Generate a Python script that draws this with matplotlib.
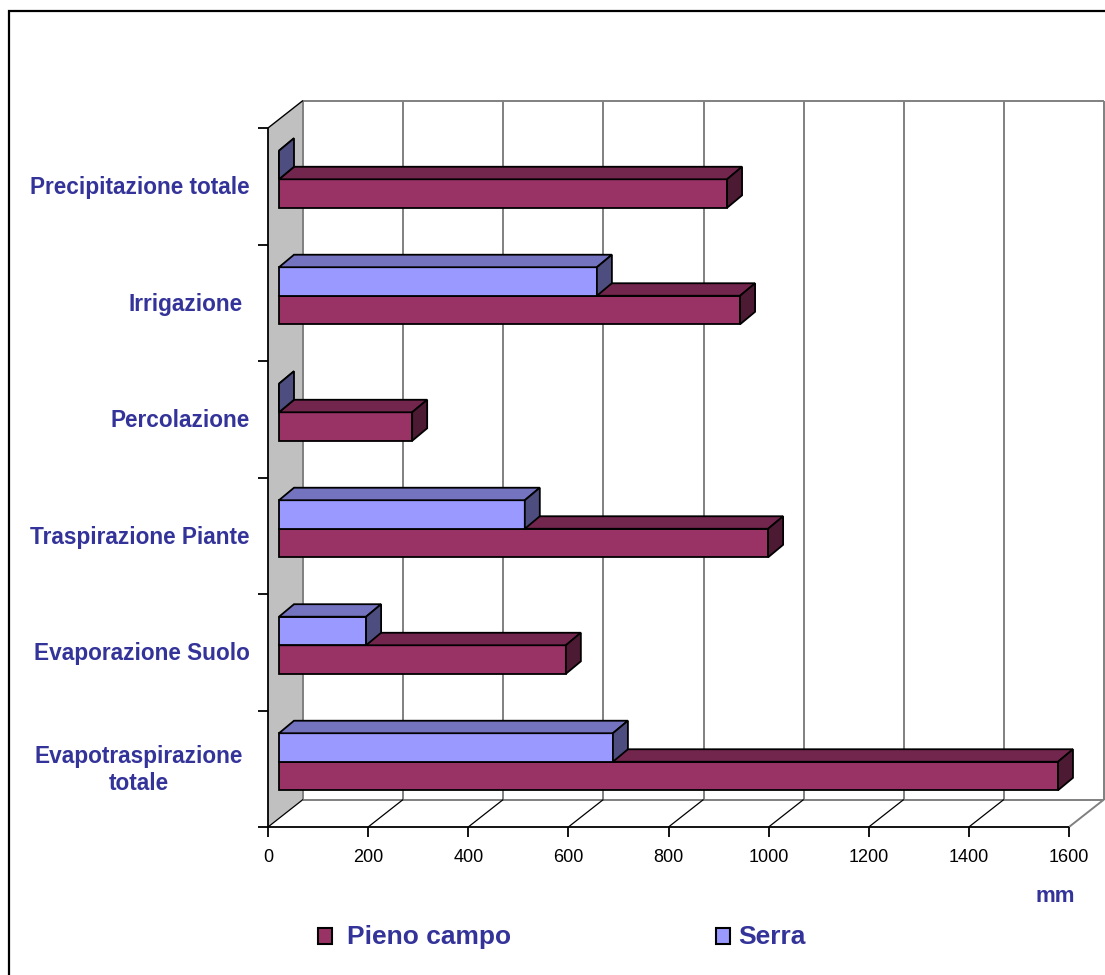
import matplotlib
matplotlib.use('Agg')
import matplotlib.pyplot as plt
from matplotlib.patches import Polygon, Rectangle

# ---------------- data ----------------
categories = ['Evapotraspirazione\ntotale', 'Evaporazione Suolo', 'Traspirazione Piante',
              'Percolazione', 'Irrigazione ', 'Precipitazione totale']
pieno_campo = [1556, 573, 977, 266, 921, 895]
serra = [667, 174, 491, 0, 635, 0]
x_ticks = [0, 200, 400, 600, 800, 1000, 1200, 1400, 1600]
series_names = ['Pieno campo', 'Serra']
x_unit = 'mm'

# ---------------- style ----------------
TXT = '#333399'
C_PIENO = ('#993366', '#73264D', '#4D1A33')   # front, top, side
C_SERRA = ('#9999FF', '#7373BF', '#4D4D80')
WALL = '#C0C0C0'
GRID = '#808080'
FONT = 'Liberation Sans'

W, H = 1105, 975
fig = plt.figure(figsize=(W / 100, H / 100), dpi=100)
X0, X1, YB, YT = 268, 1069, 827, 128
ax = fig.add_axes([X0 / W, 1 - YB / H, (X1 - X0) / W, (YB - YT) / H])
ax.set_xlim(0, x_ticks[-1])
ax.set_ylim(0, len(categories))
ax.axis('off')

kx = (X1 - X0) / x_ticks[-1]
ky = (YB - YT) / len(categories)
def ux(px): return px / kx
def uy(px): return px / ky

DX, DY = ux(35), uy(27.5)
NC = len(categories)
XMAX = x_ticks[-1]

def poly(pts, fc, ec='none', lw=0, z=1):
    ax.add_patch(Polygon(pts, closed=True, facecolor=fc, edgecolor=ec, lw=lw,
                         zorder=z, clip_on=False, joinstyle='miter'))

def line(xs, ys, c, lw, z=2):
    ax.plot(xs, ys, color=c, lw=lw, zorder=z, clip_on=False, solid_capstyle='butt')

# left wall
poly([(0, 0), (0, NC), (DX, NC + DY), (DX, DY)], WALL, z=0.5)
# back wall grid
for t in x_ticks:
    line([t + DX, t + DX], [DY, NC + DY], GRID, 1.4, z=0.8)
line([DX, XMAX + DX], [NC + DY, NC + DY], GRID, 1.4, z=0.8)
line([DX, XMAX + DX], [DY, DY], GRID, 1.4, z=0.8)
line([XMAX, XMAX + DX], [0, DY], GRID, 1.4, z=0.8)
# floor diagonals
for t in x_ticks[:-1]:
    line([t, t + DX], [0, DY], 'black', 0.9, z=0.9)
# wall top diagonal
line([0, DX], [NC, NC + DY], 'black', 1.0, z=0.9)
# axes lines
line([0, XMAX], [0, 0], 'black', 1.3, z=3)
line([0, 0], [0, NC], 'black', 1.3, z=3)
for t in x_ticks:
    line([t, t], [0, -uy(10)], 'black', 1.3, z=3)
    ax.text(t, -uy(30), str(t), ha='center', va='center', fontsize=13,
            family=FONT, color='black')
for i in range(NC + 1):
    line([-ux(10), 0], [i, i], 'black', 1.3, z=3)

# category labels
for i, lab in enumerate(categories):
    xr = 250 if lab.strip() == lab and '\n' not in lab else 243
    ax.text(ux(xr - X0), i + 0.5 - uy(1.5), lab.strip() if '\n' not in lab else lab,
            ha='right', va='center', multialignment='center', fontsize=16.3,
            fontweight='bold', family=FONT, color=TXT, linespacing=1.2)

# bars
BX0 = ux(11)
BDX, BDY = ux(15), uy(12.5)
Y_LO, BH = 0.315, 0.245

def bar(x1, y0, y1, cols):
    x0 = BX0
    poly([(x0, y0), (x1, y0), (x1, y1), (x0, y1)], cols[0], 'black', 1.3, z=4)
    poly([(x0, y1), (x1, y1), (x1 + BDX, y1 + BDY), (x0 + BDX, y1 + BDY)], cols[1], 'black', 1.3, z=4)
    poly([(x1, y0), (x1, y1), (x1 + BDX, y1 + BDY), (x1 + BDX, y0 + BDY)], cols[2], 'black', 1.3, z=4)

for i in range(NC):
    y0 = i + Y_LO
    bar(BX0 + pieno_campo[i], y0, y0 + BH, C_PIENO)
    bar(BX0 + serra[i], y0 + BH, y0 + 2 * BH, C_SERRA)

# unit label
fig.text(1055 / W, 1 - 897 / H, x_unit, ha='center', va='center', fontsize=16,
         fontweight='bold', family=FONT, color=TXT)

# legend
for (sx, tx), name, cols in zip([(318, 347), (716, 738)], series_names, [C_PIENO, C_SERRA]):
    fig.add_artist(Rectangle((sx / W, 1 - 944 / H), 14 / W, 16 / H, transform=fig.transFigure,
                             facecolor=cols[0], edgecolor='black', lw=1.5))
    fig.text(tx / W, 1 - 937 / H, name, ha='left', va='center', fontsize=19,
             fontweight='bold', family=FONT, color=TXT)

# outer border
fig.add_artist(Rectangle((9 / W, -0.05), 1.1, 1 - 11 / H + 0.05, transform=fig.transFigure,
                         facecolor='none', edgecolor='black', lw=1.6))

fig.savefig('out.png', dpi=100, facecolor='white')
